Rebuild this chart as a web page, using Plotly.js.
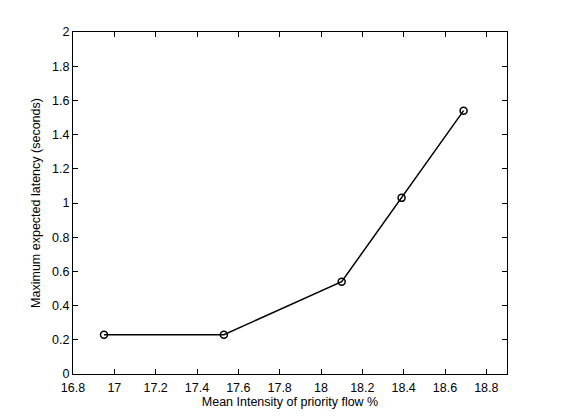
<!DOCTYPE html>
<html><head><meta charset="utf-8">
<script src="https://cdn.plot.ly/plotly-3.0.1.min.js"></script>
<style>body{margin:0;background:#fff}#c{width:561px;height:420px}</style>
</head><body><div id="c"></div>
<script>
const intensity = [16.95, 17.53, 18.1, 18.39, 18.69];
const latency = [0.23, 0.23, 0.54, 1.03, 1.54];
const xTitle = 'Mean Intensity of priority flow %';
const yTitle = 'Maximum expected latency (seconds)';

const trace = {
  x: intensity, y: latency, type: 'scatter', mode: 'lines+markers',
  line: {color: '#000', width: 1.5},
  marker: {symbol: 'circle-open', size: 7, color: '#000', line: {width: 1.5, color: '#000'}},
  hoverinfo: 'skip'
};
const fam = 'Liberation Sans, Arial, sans-serif';
const axisCommon = {
  showgrid: false, zeroline: false, showline: true, linecolor: '#000', linewidth: 1,
  mirror: 'ticks', ticks: 'inside', ticklen: 5, tickwidth: 1, tickcolor: '#000',
  tickfont: {family: fam, size: 12.5, color: '#000'}, tickangle: 0
};
const layout = {
  width: 561, height: 420,
  margin: {l: 73, r: 54, t: 32, b: 46},
  paper_bgcolor: '#fff', plot_bgcolor: '#fff',
  showlegend: false,
  xaxis: Object.assign({}, axisCommon, {
    range: [16.8, 18.9], tickmode: 'linear', tick0: 16.8, dtick: 0.2,
    ticklabelstandoff: 2,
    title: {text: xTitle, standoff: 2, font: {family: fam, size: 12.5, color: '#000'}}
  }),
  yaxis: Object.assign({}, axisCommon, {
    range: [0, 2], tickmode: 'linear', tick0: 0, dtick: 0.2,
    title: {text: yTitle, standoff: 8, font: {family: fam, size: 12.5, color: '#000'}}
  })
};
Plotly.newPlot('c', [trace], layout, {staticPlot: true, displayModeBar: false});
</script></body></html>
